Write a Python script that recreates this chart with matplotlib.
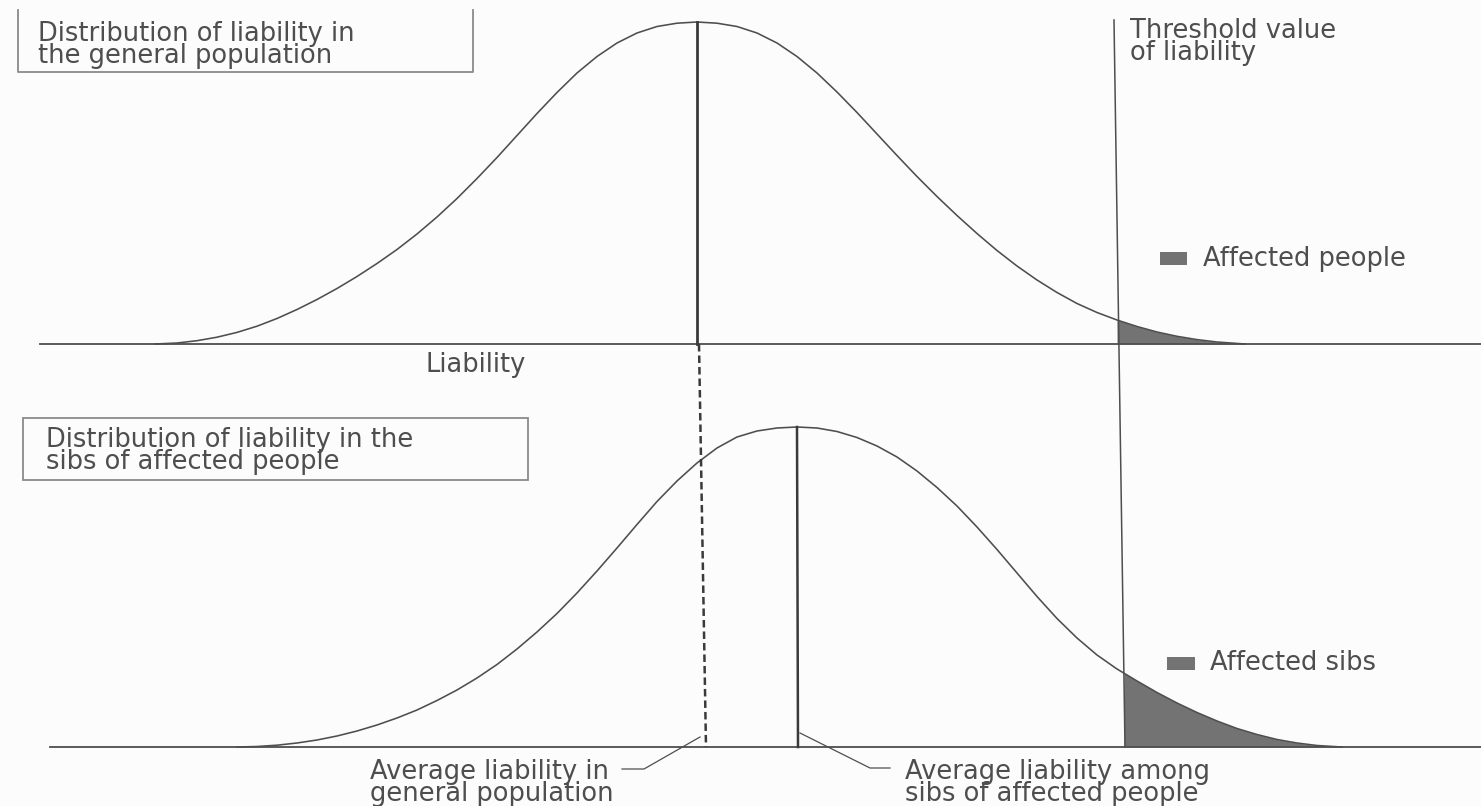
import matplotlib
matplotlib.use("Agg")
import matplotlib.pyplot as plt
from matplotlib.patches import Rectangle

# liability curve, general population (picture pixels, y grows downward)
pop_x = [155, 177, 197, 217, 237, 257, 277, 297, 317, 337, 357, 377, 397, 417,
         437, 457, 477, 497, 517, 537, 557, 577, 597, 617, 637, 657, 677, 697,
         717, 737, 757, 777, 797, 817, 837, 857, 877, 897, 917, 937, 957, 977,
         997, 1017, 1037, 1057, 1077, 1097, 1117, 1137, 1157, 1177, 1197, 1217,
         1245]
pop_y = [344, 343, 340.7, 337.2, 332.4, 326.2, 318.5, 309.5, 299.5, 288.5,
         276.5, 263.5, 249.5, 234, 217, 198.5, 178.5, 157.5, 135.5, 113.5,
         92.5, 73, 56.5, 43, 33, 26.5, 23.2, 22,
         23.2, 26.5, 33, 43, 56.5, 73, 92, 112.5, 134, 155.5, 176.5, 196.5,
         215.5, 233.5, 250.5, 266, 280, 292.5, 303.5, 312.5, 320, 326.5, 332,
         336.3, 339.6, 342, 344]

# liability curve, sibs of affected people
sib_x = [237, 257, 277, 297, 317, 337, 357, 377, 397, 417, 437, 457, 477, 497,
         517, 537, 557, 577, 597, 617, 637, 657, 677, 697, 717, 737, 757, 777,
         797, 817, 837, 857, 877, 897, 917, 937, 957, 977, 997, 1017, 1037,
         1057, 1077, 1097, 1117, 1124, 1137, 1157, 1177, 1197, 1217, 1237,
         1257, 1277, 1297, 1317, 1342]
sib_y = [747, 746.5, 745.2, 743, 740, 736, 731, 725, 718, 710, 700.5, 690,
         678, 664.5, 649, 632, 613.5, 593, 571, 548, 524.5, 501.5, 481, 463,
         448, 437, 431, 428, 427,
         428, 431.5, 437.5, 446, 457, 471, 487.5, 506, 527, 549.5, 573, 596.5,
         618.5, 638, 655, 669, 673.2, 681, 692.5, 703, 712.5, 721, 728.5,
         734.5, 739.5, 743, 745.5, 747]

pop_base = 344
sib_base = 747
pop_thr = 1117
sib_thr = 1124
thr_line_x = [1114, 1125]
thr_line_y = [20, 747]
pop_mean_x = [697, 697]
pop_mean_y = [22, 344]
pop_mean_ext_x = [699, 706]
pop_mean_ext_y = [344, 747]
sib_mean_x = [797, 798]
sib_mean_y = [427, 747]

box_texts = [
    "Distribution of liability in\nthe general population",
    "Distribution of liability in the\nsibs of affected people",
]
threshold_text = "Threshold value\nof liability"
axis_text = "Liability"
legend_labels = ["Affected people", "Affected sibs"]
note_texts = [
    "Average liability in\ngeneral population",
    "Average liability among\nsibs of affected people",
]

INK = "#4e4e4e"
SHADE = "#737373"
FONT = "DejaVu Sans"
FS = 18.5
LS = 0.8

fig = plt.figure(figsize=(14.81, 8.06), dpi=100)
fig.patch.set_facecolor("#fcfcfc")
ax = fig.add_axes([0, 0, 1, 1])
ax.set_xlim(0, 1481)
ax.set_ylim(806, 0)
ax.axis("off")

# baselines
ax.plot([40, 1481], [pop_base, pop_base], color=INK, lw=1.3)
ax.plot([50, 1481], [sib_base, sib_base], color=INK, lw=1.3)

# curves
ax.plot(pop_x, pop_y, color=INK, lw=1.15, solid_joinstyle="round")
ax.plot(sib_x, sib_y, color=INK, lw=1.15, solid_joinstyle="round")

# shaded tails past the threshold
px = [x for x in pop_x if x >= pop_thr]
py = [y for x, y in zip(pop_x, pop_y) if x >= pop_thr]
ax.fill_between(px, py, pop_base, color=SHADE, lw=0)
sx = [x for x in sib_x if x >= sib_thr]
sy = [y for x, y in zip(sib_x, sib_y) if x >= sib_thr]
ax.fill_between(sx, sy, sib_base, color=SHADE, lw=0)

# threshold and mean lines
ax.plot(thr_line_x, thr_line_y, color=INK, lw=1.1)
ax.plot(pop_mean_x, pop_mean_y, color="#3a3a3a", lw=2.0)
ax.plot(pop_mean_ext_x, pop_mean_ext_y, color="#3a3a3a", lw=1.8,
        dashes=(3, 1.6))
ax.plot(sib_mean_x, sib_mean_y, color="#3a3a3a", lw=1.8)

# leader lines
ax.plot([622, 644, 700], [769, 769, 737], color=INK, lw=0.9)
ax.plot([800, 870, 890], [733, 768, 768], color=INK, lw=0.9)

# boxes
ax.plot([18, 18, 473, 473], [10, 72, 72, 10], color="#8a8a8a", lw=1.3)
ax.add_patch(Rectangle((23, 418), 505, 62, fill=False, ec="#8a8a8a", lw=1.3))


def label(x, y, s, ha="left"):
    ax.text(x, y, s, fontsize=FS, family=FONT, color=INK, va="baseline",
            ha=ha, multialignment="left", linespacing=LS)


label(38, 63, box_texts[0])
label(46, 469, box_texts[1])
label(1130, 60, threshold_text)
label(476, 372, axis_text, ha="center")

ax.add_patch(Rectangle((1160, 252), 27, 13, color=SHADE, lw=0))
label(1203, 266, legend_labels[0])
ax.add_patch(Rectangle((1167, 657), 28, 13, color=SHADE, lw=0))
label(1210, 670, legend_labels[1])

label(614, 801, note_texts[0], ha="right")
label(905, 801, note_texts[1])

fig.savefig("out.png", dpi=100, facecolor=fig.get_facecolor())
